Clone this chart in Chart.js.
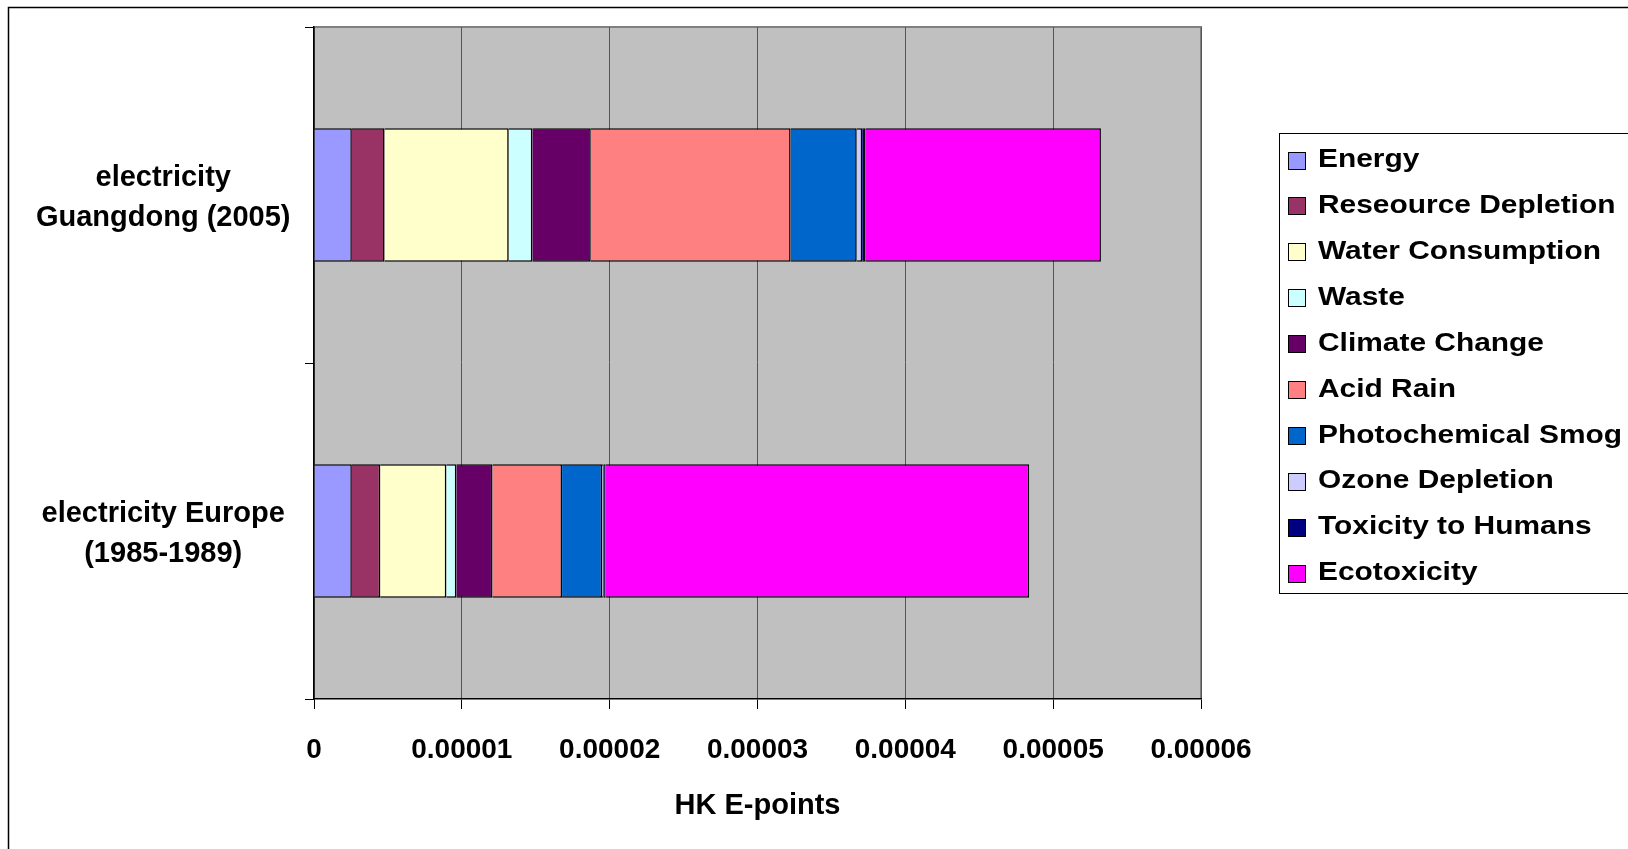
<!DOCTYPE html>
<html>
<head>
<meta charset="utf-8">
<title>HK E-points of electricity</title>
<script src="https://cdn.jsdelivr.net/npm/chart.js@4/dist/chart.umd.min.js"></script>
<style>
  html, body { margin: 0; padding: 0; background: #ffffff; }
  #wrap { width: 1628px; height: 849px; }
  canvas { display: block; }
</style>
</head>
<body>
<div id="wrap"><canvas id="chart" width="1628" height="849"></canvas></div>
<script>
// Electricity sources compared (one bar each)
const categories = [
  ['electricity', 'Guangdong (2005)'],
  ['electricity Europe', '(1985-1989)']
];

// Impact categories, in stacking order
const seriesNames = [
  'Energy', 'Reseource Depletion', 'Water Consumption', 'Waste', 'Climate Change',
  'Acid Rain', 'Photochemical Smog', 'Ozone Depletion', 'Toxicity to Humans', 'Ecotoxicity'
];

// HK E-points per category: [Guangdong, Europe]
const energy            = [0.00000256, 0.00000256];
const resourceDepletion = [0.00000221, 0.00000192];
const waterConsumption  = [0.00000840, 0.00000447];
const waste             = [0.00000160, 0.00000068];
const climateChange     = [0.00000395, 0.00000244];
const acidRain          = [0.00001352, 0.00000471];
const photochemicalSmog = [0.00000447, 0.00000271];
const ozoneDepletion    = [0.00000037, 0.00000008];
const toxicityToHumans  = [0.00000023, 0.00000015];
const ecotoxicity       = [0.00001592, 0.00002866];

const seriesValues = [
  energy, resourceDepletion, waterConsumption, waste, climateChange,
  acidRain, photochemicalSmog, ozoneDepletion, toxicityToHumans, ecotoxicity
];

const seriesColors = [
  '#9999FF', '#993366', '#FFFFCC', '#CCFFFF', '#660066',
  '#FF8080', '#0066CC', '#CCCCFF', '#000080', '#FF00FF'
];

// Value axis
const xMin = 0;
const xMax = 0.00006;
const xStep = 0.00001;
const xTickLabels = ['0', '0.00001', '0.00002', '0.00003', '0.00004', '0.00005', '0.00006'];

const FONT = "'Liberation Sans', Arial, Helvetica, sans-serif";

// Outer frame and grey plot area behind the gridlines
const frameAndPlotArea = {
  id: 'frameAndPlotArea',
  beforeDraw(chart) {
    const { ctx, chartArea: a } = chart;
    ctx.save();
    ctx.strokeStyle = '#000000';
    ctx.lineWidth = 1.5;
    ctx.strokeRect(8.5, 7.5, 1700, 900);
    ctx.fillStyle = '#C0C0C0';
    ctx.fillRect(a.left, a.top, a.right - a.left, a.bottom - a.top);
    ctx.strokeStyle = '#808080';
    ctx.lineWidth = 2;
    ctx.beginPath();
    ctx.moveTo(a.left, a.top);
    ctx.lineTo(a.right, a.top);
    ctx.lineTo(a.right, a.bottom);
    ctx.stroke();
    ctx.restore();
  }
};

// Boxed legend to the right of the plot (wide bold lettering)
const boxedLegend = {
  id: 'boxedLegend',
  afterDraw(chart) {
    const { ctx, chartArea: a } = chart;
    const boxLeft = a.right + 78.5;
    const boxTop = 133.5;
    const boxBottom = 593.5;
    const rowTop = 160;
    const rowGap = 45.9;
    const swatch = 17;
    const stretch = 1.15;
    ctx.save();
    ctx.fillStyle = '#ffffff';
    ctx.fillRect(boxLeft, boxTop, 1700 - boxLeft, boxBottom - boxTop);
    ctx.strokeStyle = '#000000';
    ctx.lineWidth = 1;
    ctx.strokeRect(boxLeft, boxTop, 1700 - boxLeft, boxBottom - boxTop);
    ctx.font = 'bold 26px ' + FONT;
    ctx.textBaseline = 'middle';
    ctx.textAlign = 'left';
    chart.data.datasets.forEach((ds, i) => {
      const cy = rowTop + i * rowGap;
      const sx = boxLeft + 9;
      const sy = Math.round(cy - swatch / 2) + 0.5;
      ctx.fillStyle = ds.backgroundColor;
      ctx.fillRect(sx, sy, swatch, swatch);
      ctx.strokeStyle = '#000000';
      ctx.lineWidth = 1;
      ctx.strokeRect(sx, sy, swatch, swatch);
      ctx.save();
      ctx.translate(boxLeft + 38.5, cy);
      ctx.scale(stretch, 1);
      ctx.fillStyle = '#000000';
      ctx.fillText(ds.label, 0, 0);
      ctx.restore();
    });
    ctx.restore();
  }
};

const datasets = seriesNames.map((name, i) => ({
  label: name,
  data: seriesValues[i],
  backgroundColor: seriesColors[i],
  borderColor: '#000000',
  borderWidth: 1.5,
  borderSkipped: 'start'
}));

new Chart(document.getElementById('chart'), {
  type: 'bar',
  data: { labels: categories, datasets },
  options: {
    indexAxis: 'y',
    responsive: false,
    animation: false,
    events: [],
    barPercentage: 0.397,
    categoryPercentage: 1.0,
    layout: { padding: { top: 27, right: 427, bottom: 0, left: 0 } },
    plugins: {
      legend: { display: false },
      tooltip: { enabled: false }
    },
    scales: {
      x: {
        type: 'linear',
        stacked: true,
        min: xMin,
        max: xMax,
        ticks: {
          stepSize: xStep,
          color: '#000000',
          font: { family: FONT, size: 28, weight: 'bold' },
          padding: 24,
          maxRotation: 0,
          callback: (v, i) => xTickLabels[i]
        },
        grid: {
          color: '#555555',
          lineWidth: 1,
          tickColor: '#000000',
          tickLength: 10
        },
        border: { display: true, color: '#000000', width: 1.5 },
        title: {
          display: true,
          text: 'HK E-points',
          color: '#000000',
          font: { family: FONT, size: 29, weight: 'bold' },
          padding: { top: 0, bottom: 26 }
        },
        afterFit: (scale) => { scale.height = 150; }
      },
      y: {
        type: 'category',
        stacked: true,
        offset: true,
        ticks: {
          color: '#000000',
          font: { family: FONT, size: 29, weight: 'bold', lineHeight: 1.38 },
          padding: 14.5,
          labelOffset: 3,
          crossAlign: 'center'
        },
        grid: {
          offset: true,
          drawOnChartArea: false,
          tickColor: '#000000',
          tickLength: 9
        },
        border: { display: true, color: '#000000', width: 1.5 },
        afterFit: (scale) => {
          scale.width = 314;
          scale.paddingTop = 0;
          scale.paddingBottom = 0;
        }
      }
    }
  },
  plugins: [frameAndPlotArea, boxedLegend]
});
</script>
</body>
</html>
